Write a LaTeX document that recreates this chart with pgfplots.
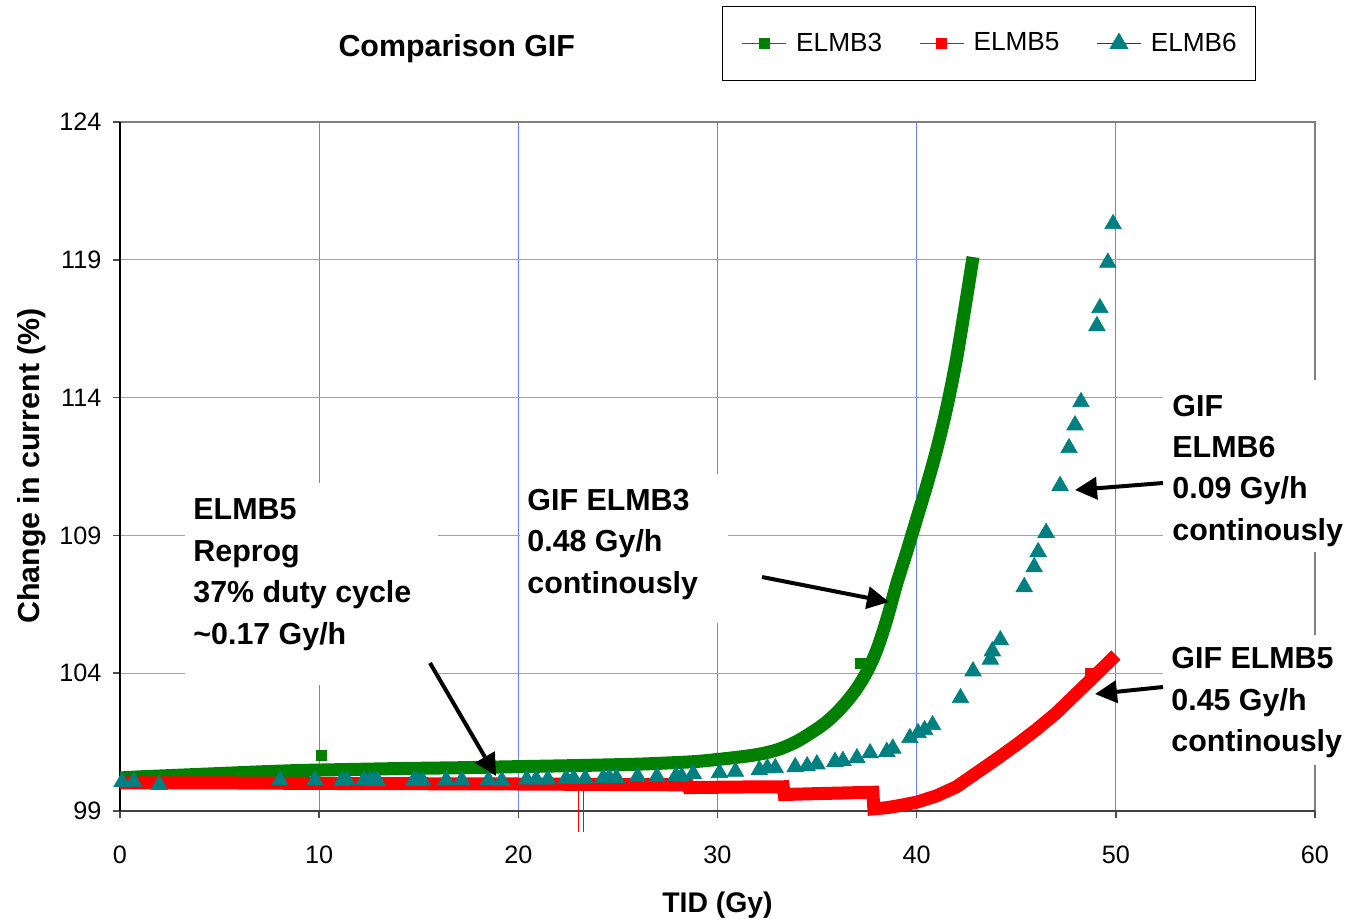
\documentclass[border=0pt]{standalone}
\usepackage{fontspec}
\setmainfont{Liberation Sans}
\usepackage{pgfplots}
\pgfplotsset{compat=1.18}
\usetikzlibrary{arrows.meta}

\definecolor{xlgreen}{RGB}{0,128,0}
\definecolor{xlred}{RGB}{255,0,0}
\definecolor{xlteal}{RGB}{0,128,128}
\definecolor{xlpurple}{RGB}{128,0,128}
\definecolor{gridv}{RGB}{100,130,255}
\definecolor{gridh}{RGB}{135,160,255}
\definecolor{framegray}{RGB}{128,128,128}

\newcommand\annot{\fontsize{15.2}{18}\selectfont\bfseries}

\begin{document}
\begin{tikzpicture}
\path[use as bounding box] (0,0) rectangle (674pt,461.5pt);
\begin{axis}[
  at={(60pt,56pt)}, anchor=south west,
  scale only axis, width=597.5pt, height=344.5pt,
  xmin=0, xmax=60, ymin=99, ymax=124,
  xtick={0,10,...,60}, ytick={99,104,...,124},
  axis line style={draw=none},
  tick align=outside, xtick pos=left, ytick pos=left,
  major tick length=3.5pt,
  tick style={color=black!70, line width=0.8pt},
  xmajorgrids, ymajorgrids,
  x grid style={gridv, line width=0.6pt},
  y grid style={gridh, line width=0.6pt},
  tick label style={font=\fontsize{12.6}{14}\selectfont},
  /pgf/number format/assume math mode=true,
  xticklabel shift=10.5pt,
  yticklabel shift=2.3pt,
  xlabel={TID (Gy)},
  xlabel style={at={(axis description cs:0.5,-0.1364)}, anchor=center,
    font=\fontsize{14.2}{16}\selectfont\bfseries},
  ylabel={Change in current (\%)},
  ylabel style={at={(axis description cs:-0.0740,0.5007)}, anchor=center,
    font=\fontsize{15.2}{18}\selectfont\bfseries},
  title={Comparison GIF},
  title style={at={(axis description cs:0.2818,1.0889)}, anchor=center,
    font=\fontsize{15.2}{18}\selectfont\bfseries},
  legend columns=3,
  legend style={at={(axis description cs:0.5038,1.1684)}, anchor=north west,
    draw=black, fill=white, font=\fontsize{13.1}{15}\selectfont,
    nodes={inner sep=0pt}, inner xsep=9.5pt, inner ysep=13.2pt,
    /tikz/every odd column/.append style={column sep=4.5pt},
    /tikz/every even column/.append style={column sep=18.3pt}},
  legend image code/.code={\draw[mark repeat=2,mark phase=2,#1]
    plot coordinates {(0pt,0pt) (11pt,0pt) (22pt,0pt)};},
  clip=false,
]
% plot area frame
\draw[framegray, line width=0.8pt] (rel axis cs:0,1) -- (rel axis cs:1,1) -- (rel axis cs:1,0);
\draw[black!75, line width=0.9pt] (rel axis cs:0,0) -- (rel axis cs:1,0);
\draw[black, line width=0.9pt] (rel axis cs:0,0) -- (rel axis cs:0,1);

% ELMB3
\addplot[xlgreen, line width=6.5pt, smooth, tension=0.5, forget plot] coordinates {
(0,100.2) (1,100.24) (2,100.27) (3,100.3) (5,100.36) (7,100.42) (9,100.47)
(11,100.5) (14,100.54) (17,100.57) (20,100.61) (23,100.65) (26,100.7)
(28,100.76) (29,100.8) (30,100.87) (31,100.95) (32,101.05) (33,101.22)
(34,101.53) (35,101.98) (35.5,102.25) (36,102.58) (36.5,102.98) (37,103.45)
(37.5,104.05) (38,104.85) (38.5,105.95) (39,107.25) (39.5,108.4)
(40,109.6) (40.5,110.8) (41,112.1) (41.5,113.6) (42,115.4) (42.5,117.6)
(42.83,119.1)
};
\addplot[xlgreen, only marks, mark=square*, mark size=2.5pt, forget plot] coordinates {
(10.1,101.0) (37.15,104.37)
};

% ELMB5
\addplot[xlred, line width=6.5pt, forget plot] coordinates {
(0,100.02) (5,100.02) (10,100.0) (15,99.99) (20,99.98) (25,99.96) (28.5,99.95)
(28.55,99.85) (31,99.87) (33.3,99.88) (33.35,99.6) (35.5,99.64) (37.8,99.68)
(37.85,99.08) (38.5,99.12) (39,99.18) (40,99.32) (41,99.55) (42,99.88)
(43,100.38) (44,100.88) (45,101.4) (46,101.95) (47,102.55) (48,103.25)
(49,103.95) (49.5,104.3) (50,104.66)
};
\addplot[xlred, only marks, mark=square*, mark size=2.5pt, forget plot] coordinates {
(48.7,104.0)
};
\addplot[xlred, line width=0.7pt, forget plot] coordinates {(23.02,99.95) (23.02,98.25)};
\addplot[xlred, line width=0.7pt, forget plot] coordinates {(23.26,99.95) (23.26,98.25)};

% ELMB6
\addplot[only marks, mark=triangle*, mark size=4.7pt,
  mark options={fill=xlteal, draw=xlteal}, forget plot] coordinates {
(0.1,100.05) (0.69,100.07) (1.97,99.95) (8.03,100.12) (9.79,100.12)
(11.14,100.1) (11.39,100.12) (12.25,100.12) (12.54,100.1) (12.73,100.1)
(12.93,100.1) (14.75,100.1) (14.91,100.1) (15.19,100.1) (16.38,100.12)
(17.16,100.12) (18.5,100.12) (19.17,100.1) (20.42,100.15) (20.9,100.15)
(21.48,100.15) (22.4,100.18) (22.78,100.18) (23.36,100.18) (24.26,100.2)
(24.56,100.2) (24.93,100.2) (25.99,100.25) (26.96,100.25) (27.92,100.28)
(28.2,100.25) (28.78,100.35) (30.1,100.38) (30.9,100.43) (32.1,100.49)
(32.5,100.56) (32.9,100.56) (33.9,100.6) (34.5,100.63) (34.99,100.7)
(35.9,100.79) (36.3,100.82) (37.0,100.92) (37.66,101.1) (38.5,101.15)
(38.8,101.27) (39.66,101.65) (40.07,101.83) (40.4,101.94) (40.8,102.12)
(42.2,103.1) (42.83,104.07) (43.7,104.5) (43.8,104.8) (44.2,105.2)
(45.4,107.13) (45.9,107.85) (46.1,108.4) (46.5,109.1) (47.2,110.8)
(47.65,112.17) (47.95,113.0) (48.25,113.84) (49.05,116.6) (49.2,117.25)
(49.6,118.9) (49.86,120.3)
};

\addlegendimage{draw=xlgreen, line width=0.9pt, mark=square*,
  mark size=2.2pt, mark options={fill=xlgreen, draw=xlgreen}}
\addlegendentry{ELMB3}
\addlegendimage{draw=xlred, line width=0.9pt, mark=square*,
  mark size=2.2pt, mark options={fill=xlred, draw=xlred}}
\addlegendentry{ELMB5}
\addlegendimage{draw=xlpurple, line width=0.9pt, mark=triangle*,
  mark size=4.6pt, mark options={fill=xlteal, draw=xlteal}}
\addlegendentry{ELMB6}
\end{axis}

% text boxes and arrows, in pixel coordinates of the reference
\begin{scope}[x=0.5pt, y=-0.5pt, shift={(0pt,461.5pt)}]
\fill[white] (185,483) rectangle (438,685);
\fill[white] (520,474) rectangle (728,623);
\fill[white] (1163,380) rectangle (1348,552);
\fill[white] (1163,635) rectangle (1348,765);

\node[anchor=base west, inner sep=0pt, font=\annot] at (193,519) {ELMB5};
\node[anchor=base west, inner sep=0pt, font=\annot] at (193,561) {Reprog};
\node[anchor=base west, inner sep=0pt, font=\annot] at (193,602) {37\% duty cycle};
\node[anchor=base west, inner sep=0pt, font=\annot] at (193,644) {\textasciitilde0.17 Gy/h};

\node[anchor=base west, inner sep=0pt, font=\annot] at (527,510) {GIF ELMB3};
\node[anchor=base west, inner sep=0pt, font=\annot] at (527,551) {0.48 Gy/h};
\node[anchor=base west, inner sep=0pt, font=\annot] at (527,593) {continously};

\node[anchor=base west, inner sep=0pt, font=\annot] at (1172,416) {GIF};
\node[anchor=base west, inner sep=0pt, font=\annot] at (1172,457) {ELMB6};
\node[anchor=base west, inner sep=0pt, font=\annot] at (1172,498) {0.09 Gy/h};
\node[anchor=base west, inner sep=0pt, font=\annot] at (1172,540) {continously};

\node[anchor=base west, inner sep=0pt, font=\annot] at (1171,668) {GIF ELMB5};
\node[anchor=base west, inner sep=0pt, font=\annot] at (1171,710) {0.45 Gy/h};
\node[anchor=base west, inner sep=0pt, font=\annot] at (1171,751) {continously};

\begin{scope}[line width=2pt, -{Triangle[length=11pt,width=11pt]}]
\draw (430,663) -- (496,776);
\draw (762,577) -- (889,602);
\draw (1163,483) -- (1075,490);
\draw (1163,687) -- (1095,694);
\end{scope}
\end{scope}
\end{tikzpicture}
\end{document}
